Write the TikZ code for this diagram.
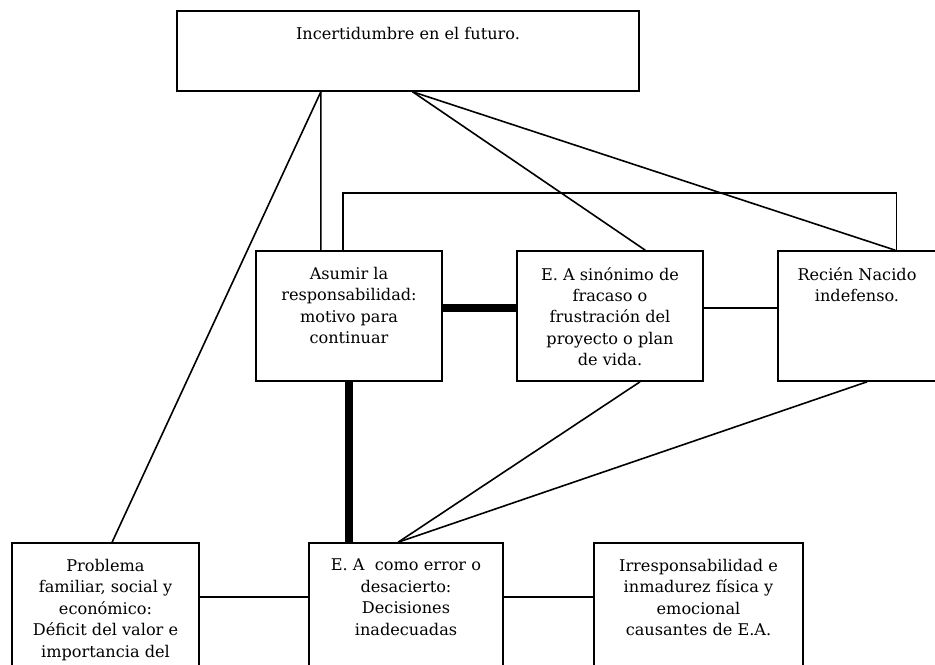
\documentclass[tikz,border=0pt]{standalone}
\usepackage{fontspec}
\setmainfont{DejaVu Serif}
\usetikzlibrary{calc}
\tikzset{
    box/.style={draw, rectangle, line width=1.2pt, inner sep=0pt},
    lbl/.style={anchor=north, align=center, inner sep=0pt, yshift=-12.5pt,
      font=\fontsize{12.1}{16.1}\selectfont},
    link/.style={line width=1.2pt},
    strong/.style={line width=5.6pt}
}

\begin{document}
\begin{tikzpicture}[x=0.75pt, y=-0.75pt]
        \clip (0,0) rectangle (935,664);
        % upper row
        \node [box, minimum width=346.5pt, minimum height=60pt] (inc) at (408,51) {};
        \node [lbl] (inc-t) at (inc.north) {Incertidumbre en el futuro.};
        \node [box, minimum width=139.5pt, minimum height=97.5pt] (asumir) at (349,316) {};
        \node [lbl] (asumir-t) at (asumir.north) {Asumir la\\responsabilidad:\\motivo para\\continuar};
        \node [box, minimum width=139.5pt, minimum height=97.5pt] (sinonimo) at (610,316) {};
        \node [lbl] (sinonimo-t) at (sinonimo.north) {E. A sinónimo de\\fracaso o\\frustración del\\proyecto o plan\\de vida.};
        \node [box, minimum width=118.5pt, minimum height=97.5pt] (recien) at (857,316) {};
        \node [lbl] (recien-t) at (recien.north) {Recién Nacido\\indefenso.};
        % lower row
        \node [box, minimum width=140.25pt, minimum height=118.5pt] (problema) at (105.5,622) {};
        \node [lbl] (problema-t) at (problema.north) {Problema\\familiar, social y\\económico:\\Déficit del valor e\\importancia del};
        \node [box, minimum width=145.5pt, minimum height=118.5pt] (como) at (406,622) {};
        \node [lbl] (como-t) at (como.north) {E. A\ \ como error o\\desacierto:\\Decisiones\\inadecuadas};
        \node [box, minimum width=156.75pt, minimum height=118.5pt] (irresp) at (698.5,622) {};
        \node [lbl] (irresp-t) at (irresp.north) {Irresponsabilidad e\\inmadurez física y\\emocional\\causantes de E.A.};
        \coordinate (mid) at (0,597);
        % links from the top box
        \draw [link] ($(inc.south west)!0.312!(inc.south east)$) -- ($(asumir.north west)!0.35!(asumir.north east)$);
        \draw [link] ($(inc.south west)!0.312!(inc.south east)$) -- ($(problema.north west)!0.535!(problema.north east)$);
        \draw [link] ($(inc.south west)!0.51!(inc.south east)$) -- ($(sinonimo.north west)!0.688!(sinonimo.north east)$);
        \draw [link] ($(inc.south west)!0.51!(inc.south east)$) -- ($(recien.north west)!0.74!(recien.north east)$);
        \draw [link] ($(asumir.north west)!0.468!(asumir.north east)$) -- ++(0,-57) -| ($(recien.north west)!0.747!(recien.north east)$);
        % middle row
        \draw [strong] ($(asumir.north east)!0.44!(asumir.south east)$) -- ($(sinonimo.north west)!0.44!(sinonimo.south west)$);
        \draw [link] ($(sinonimo.north east)!0.44!(sinonimo.south east)$) -- ($(recien.north west)!0.44!(recien.south west)$);
        \draw [strong] (asumir.south) -- (asumir.south |- como.north);
        \draw [link] ($(sinonimo.south west)!0.66!(sinonimo.south east)$) -- ($(como.north west)!0.46!(como.north east)$);
        \draw [link] ($(recien.south west)!0.563!(recien.south east)$) -- ($(como.north west)!0.46!(como.north east)$);
        % bottom row
        \draw [link] (problema.east |- mid) -- (como.west |- mid);
        \draw [link] (como.east |- mid) -- (irresp.west |- mid);
      \end{tikzpicture}
\end{document}
